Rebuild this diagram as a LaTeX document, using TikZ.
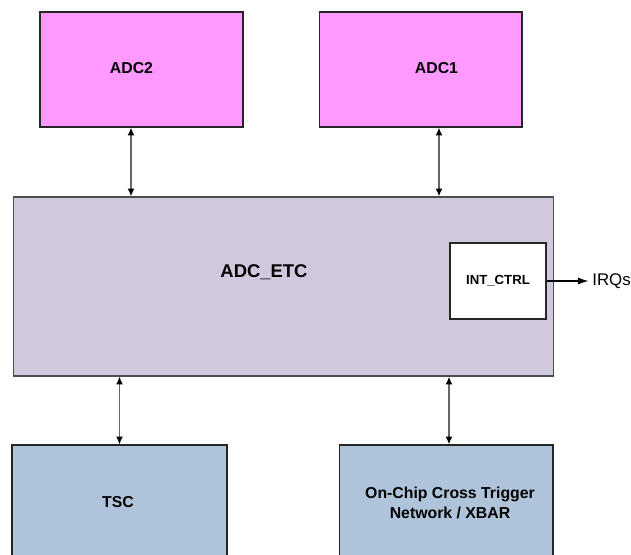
\documentclass[tikz,border=0pt]{standalone}
\usepackage{fontspec}
\setmainfont{Liberation Sans}
\usetikzlibrary{arrows.meta,positioning}

\definecolor{adcpink}{HTML}{FF99FF}
\definecolor{etclilac}{HTML}{D1C8DD}
\definecolor{trigblue}{HTML}{AFC4DA}

\begin{document}
\begin{tikzpicture}[x=0.02cm, y=-0.02cm,
    blk/.style={draw=black!85, line width=0.6pt, align=center, inner sep=0pt,
      font=\fontsize{9}{11}\selectfont\bfseries},
    adcbox/.style={blk, fill=adcpink, minimum width=4.06cm, minimum height=2.3cm},
    lowbox/.style={blk, fill=trigblue, minimum width=4.3cm, minimum height=2.3cm},
    boxtext/.style={align=center, inner sep=0pt, font=\fontsize{9}{11}\selectfont\bfseries},
    biarrow/.style={{Latex[length=4.5pt,width=4pt,color=black]}-{Latex[length=4.5pt,width=4pt,color=black]},
      draw=black!60, line width=0.9pt},
    arrow/.style={-{Latex[length=6pt,width=4pt]}, line width=0.6pt}
  ]
    \useasboundingbox (0,0) rectangle (631,554);
    \clip (0,0) rectangle (631,554);

    \node[adcbox] (adc2) at (141.5,69.5) {};
    \node[boxtext] (adc2txt) at (131.5,68) {ADC2};
    \node[adcbox] (adc1) at (420.5,69.5) {};
    \node[boxtext] (adc1txt) at (436.5,68) {ADC1};
    \node[blk, fill=etclilac, draw=black!70, minimum width=10.82cm, minimum height=3.58cm]
      (etc) at (283.5,286.5) {};
    \node[font=\fontsize{10.5}{12}\selectfont\bfseries] (etclabel) at (264,272) {ADC\_ETC};
    \node[blk, fill=white, minimum width=1.92cm, minimum height=1.52cm,
      font=\fontsize{7.5}{9}\selectfont\bfseries] (intctrl) at (498,281) {INT\_CTRL};
    \node[anchor=west, inner sep=0pt, font=\fontsize{9.6}{11}\selectfont] (irq)
      at (592,281) {IRQs};
    \node[lowbox] (tsc) at (119.5,502.5) {};
    \node[boxtext] (tsctxt) at (118,502) {TSC};
    \node[lowbox, minimum width=4.28cm] (xbar) at (446,502.5) {};
    \node[boxtext] (xbartxt) at (450,503) {On-Chip Cross Trigger\\Network / XBAR};

    \draw[biarrow] ([xshift=-0.21cm]adc2.south) -- ([xshift=-0.21cm]adc2.south |- etc.north);
    \draw[biarrow] ([xshift=0.37cm]adc1.south) -- ([xshift=0.37cm]adc1.south |- etc.north);
    \draw[biarrow] (tsc.north |- etc.south) -- (tsc.north);
    \draw[biarrow] ([xshift=0.06cm]xbar.north |- etc.south) -- ([xshift=0.06cm]xbar.north);
    \draw[arrow] (intctrl.east) -- ([xshift=-2pt]irq.west);
  \end{tikzpicture}
\end{document}
